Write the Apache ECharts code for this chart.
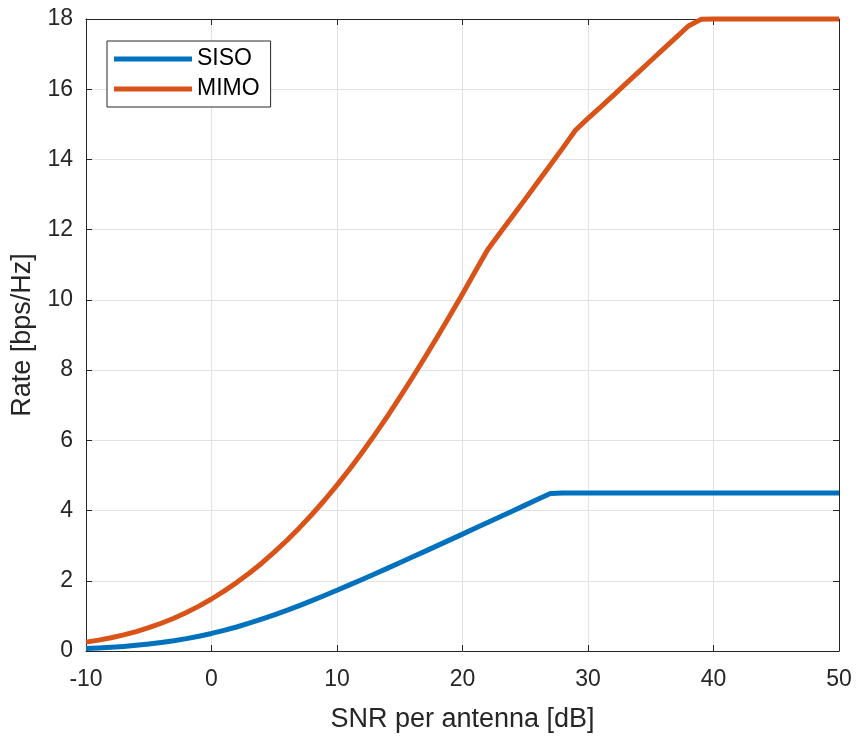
<!DOCTYPE html>
<html>
<head>
<meta charset="utf-8">
<script src="https://cdn.jsdelivr.net/npm/echarts@6/dist/echarts.min.js"></script>
<style>
  html, body { margin: 0; padding: 0; background: #fff; }
  #chart { width: 856px; height: 738px; }
</style>
</head>
<body>
<div id="chart"></div>
<script>
// SNR per antenna [dB]
var snr = [-10, -9, -8, -7, -6, -5, -4, -3, -2, -1, 0, 1, 2, 3, 4, 5, 6, 7, 8, 9,
  10, 11, 12, 13, 14, 15, 16, 17, 18, 19, 20, 21, 22, 23, 24, 25, 26, 27, 28, 29,
  30, 31, 32, 33, 34, 35, 36, 37, 38, 39, 40, 41, 42, 43, 44, 45, 46, 47, 48, 49, 50]

// rate [bps/Hz]
var siso = [0.069, 0.086, 0.106, 0.131, 0.162, 0.198, 0.242, 0.293, 0.353, 0.422,
  0.500, 0.588, 0.684, 0.791, 0.906, 1.029, 1.158, 1.294, 1.435, 1.580,
  1.730, 1.882, 2.037, 2.195, 2.354, 2.514, 2.675, 2.838, 3.001, 3.165,
  3.329, 3.494, 3.659, 3.824, 3.989, 4.155, 4.320, 4.486, 4.5, 4.5,
  4.5, 4.5, 4.5, 4.5, 4.5, 4.5, 4.5, 4.5, 4.5, 4.5,
  4.5, 4.5, 4.5, 4.5, 4.5, 4.5, 4.5, 4.5, 4.5, 4.5, 4.5]

var mimo = [0.253, 0.310, 0.378, 0.459, 0.553, 0.663, 0.790, 0.932, 1.096, 1.278,
  1.481, 1.704, 1.949, 2.215, 2.501, 2.814, 3.148, 3.506, 3.888, 4.294,
  4.724, 5.177, 5.656, 6.155, 6.677, 7.221, 7.783, 8.360, 8.951, 9.556,
  10.17, 10.80, 11.43, 11.91, 12.39, 12.87, 13.36, 13.84, 14.33, 14.83,
  15.17, 15.49, 15.82, 16.15, 16.48, 16.81, 17.14, 17.47, 17.80, 17.99,
  18, 18, 18, 18, 18, 18, 18, 18, 18, 18, 18]

var seriesNames = ['SISO', 'MIMO']
var seriesColors = ['#0072BD', '#D95319']

var font = 'Liberation Sans, Arial, sans-serif'
var ink = '#262626'

function pairs (xs, ys) {
  return xs.map((x, i) => [x, ys[i]])
}

var chart = echarts.init(document.getElementById('chart'), null, { renderer: 'canvas' })

var boxAxis = {
  type: 'value',
  axisLine: { show: true, onZero: false, lineStyle: { color: ink, width: 1 } },
  axisTick: { show: true, inside: true, length: 6, lineStyle: { color: ink } },
  axisLabel: { show: false },
  splitLine: { show: false }
}

chart.setOption({
  animation: false,
  textStyle: { fontFamily: font },
  color: seriesColors,
  grid: { left: 86, right: 17, top: 19, bottom: 83, containLabel: false },
  legend: {
    left: 107,
    top: 41,
    orient: 'vertical',
    icon: 'rect',
    itemWidth: 78,
    itemHeight: 5,
    itemGap: 6,
    padding: [6, 11, 6, 7],
    borderColor: ink,
    borderWidth: 1,
    backgroundColor: '#fff',
    selectedMode: false,
    textStyle: { fontSize: 23, lineHeight: 24, color: '#000', fontFamily: font },
    data: seriesNames
  },
  xAxis: [
    {
      type: 'value',
      min: -10,
      max: 50,
      interval: 10,
      name: 'SNR per antenna [dB]',
      nameLocation: 'middle',
      nameGap: 55,
      nameTextStyle: { fontSize: 27, color: ink, fontFamily: font },
      axisLine: { show: true, onZero: false, lineStyle: { color: ink, width: 1 } },
      axisTick: { show: true, inside: true, length: 6, lineStyle: { color: ink } },
      axisLabel: { fontSize: 23, color: ink, margin: 17, fontFamily: font },
      splitLine: { show: true, lineStyle: { color: '#e2e2e2', width: 1 } }
    },
    Object.assign({}, boxAxis, { position: 'top', min: -10, max: 50, interval: 10 })
  ],
  yAxis: [
    {
      type: 'value',
      min: 0,
      max: 18,
      interval: 2,
      name: 'Rate [bps/Hz]',
      nameLocation: 'middle',
      nameGap: 49,
      nameTextStyle: { fontSize: 27, color: ink, fontFamily: font },
      axisLine: { show: true, onZero: false, lineStyle: { color: ink, width: 1 } },
      axisTick: { show: true, inside: true, length: 6, lineStyle: { color: ink } },
      axisLabel: { fontSize: 23, color: ink, margin: 13, fontFamily: font },
      splitLine: { show: true, lineStyle: { color: '#e2e2e2', width: 1 } }
    },
    Object.assign({}, boxAxis, { position: 'right', min: 0, max: 18, interval: 2 })
  ],
  series: seriesNames.map((name, i) => ({
    name: name,
    type: 'line',
    xAxisIndex: 0,
    yAxisIndex: 0,
    data: pairs(snr, i === 0 ? siso : mimo),
    showSymbol: false,
    symbol: 'none',
    clip: false,
    lineStyle: { width: 5, color: seriesColors[i], join: 'round' },
    itemStyle: { color: seriesColors[i] },
    z: 3
  }))
})
</script>
</body>
</html>
